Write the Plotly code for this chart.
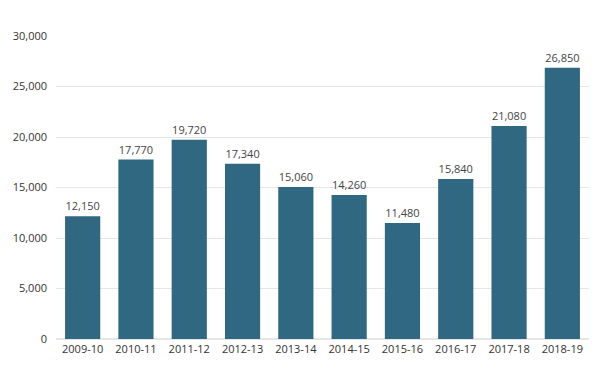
import plotly.graph_objects as go

categories = ["2009-10", "2010-11", "2011-12", "2012-13", "2013-14", "2014-15", "2015-16", "2016-17", "2017-18", "2018-19"]
values = [12150, 17770, 19720, 17340, 15060, 14260, 11480, 15840, 21080, 26850]
y_ticks = [0, 5000, 10000, 15000, 20000, 25000, 30000]

fig = go.Figure(go.Bar(
    x=categories, y=values,
    marker=dict(color="#2f6880", line=dict(width=0)),
    text=[f"{v:,}" for v in values], textposition="outside",
    textfont=dict(family="Open Sans", size=11, color="#444"),
    cliponaxis=False,
))
fig.update_layout(
    width=589, height=361,
    margin=dict(l=48, r=8, t=28, b=30, autoexpand=False),
    paper_bgcolor="white", plot_bgcolor="white",
    bargap=0.34, showlegend=False,
    font=dict(family="Open Sans", size=11, color="#333"),
)
fig.update_yaxes(range=[0, 30000], tickvals=y_ticks, tickformat=",", showgrid=True,
                 gridcolor="#e6e6e6", gridwidth=1, zeroline=True, zerolinecolor="#e6e6e6",
                 ticks="", ticklabelstandoff=8, tickfont=dict(size=11, color="#333"), automargin=False)
fig.update_xaxes(type="category", showgrid=False, ticks="", tickfont=dict(size=11, color="#333"),
                 showline=False, automargin=False, ticklabelstandoff=2)
fig.write_html("out.html")
